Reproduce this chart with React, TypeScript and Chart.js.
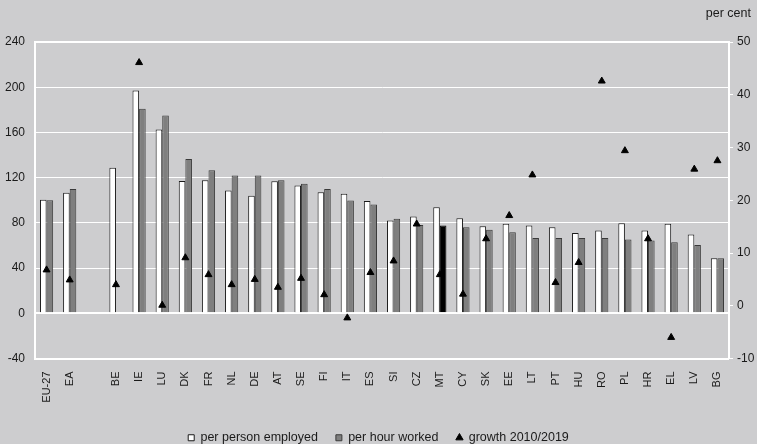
import React, { useEffect, useRef } from "react";
import { Chart, registerables } from "chart.js";

Chart.register(...registerables);

const categories = ["EU-27", "EA", "", "BE", "IE", "LU", "DK", "FR", "NL", "DE", "AT", "SE", "FI", "IT", "ES", "SI", "CZ", "MT", "CY", "SK", "EE", "LT", "PT", "HU", "RO", "PL", "HR", "EL", "LV", "BG"];

const perPersonEmployed = [100.4, 106.7, null, 128.7, 197, 162.5, 117, 117.6, 108.7, 104, 116.7, 113, 107, 105.8, 99.3, 82, 85.6, 93.9, 84.1, 77, 79.1, 77.6, 76.1, 71.1, 73.2, 79.7, 73.2, 79.1, 69.6, 48.6];

const perHourWorked = [100, 110, null, null, 181, 175, 136.6, 126.6, 122, 122, 117.6, 114.7, 110, 99.8, 96.3, 83.6, 78.2, 77.6, 76.1, 74, 71.7, 66.7, 66.7, 66.7, 66.7, 65.2, 64.3, 62.8, 60.4, 48.6];

const growth20102019 = [6.8, 4.9, null, 4.0, 46.1, 0.1, 9.1, 5.9, 4.0, 5.0, 3.5, 5.2, 2.1, -2.3, 6.3, 8.5, 15.5, 5.9, 2.2, 12.7, 17.1, 24.8, 4.4, 8.2, 42.6, 29.4, 12.7, -6.0, 25.9, 27.5];

const leftTicks = { min: -40, max: 240, step: 40 };
const rightTicks = { min: -10, max: 50, step: 10 };

const highlighted = "MT";

export default function App() {
  const canvasRef = useRef<HTMLCanvasElement | null>(null);

  useEffect(() => {
    if (!canvasRef.current) return;
    Chart.defaults.font.family = "'Liberation Sans', Arial, sans-serif";
    const perCentPlugin = {
      id: "perCent",
      afterLayout(chart: any) {
        if (chart.legend) {
          chart.legend.top += 10;
          chart.legend.bottom += 10;
        }
      },
      afterDraw(chart: any) {
        const { ctx, chartArea } = chart;
        ctx.save();
        ctx.font = "12.5px 'Liberation Sans', Arial, sans-serif";
        ctx.fillStyle = "#1a1a1a";
        ctx.textAlign = "right";
        ctx.textBaseline = "middle";
        ctx.fillText("per cent", chartArea.right + 22, 14);
        ctx.restore();
      },
    };
    const chart = new Chart(canvasRef.current, {
      type: "bar",
      data: {
        labels: categories,
        datasets: [
          {
            label: "per person employed",
            data: perPersonEmployed,
            backgroundColor: "#ffffff",
            borderColor: "#1a1a1a",
            borderWidth: 1,
            yAxisID: "y",
            categoryPercentage: 0.57,
            barPercentage: 1,
            pointStyle: "rect",
            order: 2,
          } as any,
          {
            label: "per hour worked",
            data: perHourWorked,
            backgroundColor: categories.map((c) => (c === highlighted ? "#000000" : "#7f7f7f")),
            borderColor: categories.map((c) => (c === highlighted ? "#000000" : "#3a3a3a")),
            borderWidth: 1,
            yAxisID: "y",
            categoryPercentage: 0.57,
            barPercentage: 1,
            pointStyle: "rect",
            order: 2,
          } as any,
          {
            type: "line",
            label: "growth 2010/2019",
            data: growth20102019,
            showLine: false,
            pointStyle: "triangle",
            pointRadius: 4,
            pointBackgroundColor: "#000000",
            pointBorderColor: "#000000",
            backgroundColor: "#000000",
            borderColor: "#000000",
            yAxisID: "y2",
            order: 1,
          } as any,
        ],
      },
      options: {
        animation: false,
        responsive: true,
        maintainAspectRatio: false,
        layout: { padding: { top: 42, left: 0, right: 0, bottom: 0 } },
        plugins: {
          tooltip: { enabled: false },
          legend: {
            position: "bottom",
            labels: {
              usePointStyle: true,
              boxWidth: 6,
              boxHeight: 6,
              padding: 18,
              color: "#1a1a1a",
              font: { size: 12.5 },
              sort: (a: any, b: any) => a.datasetIndex - b.datasetIndex,
            },
          },
        },
        scales: {
          x: {
            grid: { display: false },
            border: { display: false },
            ticks: {
              autoSkip: false,
              maxRotation: 90,
              minRotation: 90,
              padding: 5,
              color: "#1a1a1a",
              font: { size: 11 },
            },
            afterFit: (s: any) => {
              s.height = 45;
            },
          },
          y: {
            position: "left",
            min: leftTicks.min,
            max: leftTicks.max,
            ticks: { stepSize: leftTicks.step, padding: 10, color: "#1a1a1a", font: { size: 12 } },
            grid: {
              color: "#ffffff",
              drawTicks: false,
              lineWidth: (ctx: any) =>
                ctx.tick && (ctx.tick.value === 0 || ctx.tick.value === leftTicks.max || ctx.tick.value === leftTicks.min) ? 2 : 1,
            },
            border: { color: "#ffffff", width: 2 },
            afterFit: (s: any) => {
              s.width = 35;
            },
          },
          y2: {
            position: "right",
            min: rightTicks.min,
            max: rightTicks.max,
            ticks: { stepSize: rightTicks.step, padding: 4, color: "#1a1a1a", font: { size: 12 } },
            grid: { drawOnChartArea: false, color: "#ffffff", tickLength: 4 },
            border: { color: "#ffffff", width: 2 },
            afterFit: (s: any) => {
              s.width = 28;
            },
          },
        },
      },
      plugins: [perCentPlugin],
    });
    return () => chart.destroy();
  }, []);

  return (
    <div style={{ position: "absolute", left: 0, top: 0, width: 757, height: 444, background: "#cdcdcf" }}>
      <canvas ref={canvasRef} />
    </div>
  );
}
